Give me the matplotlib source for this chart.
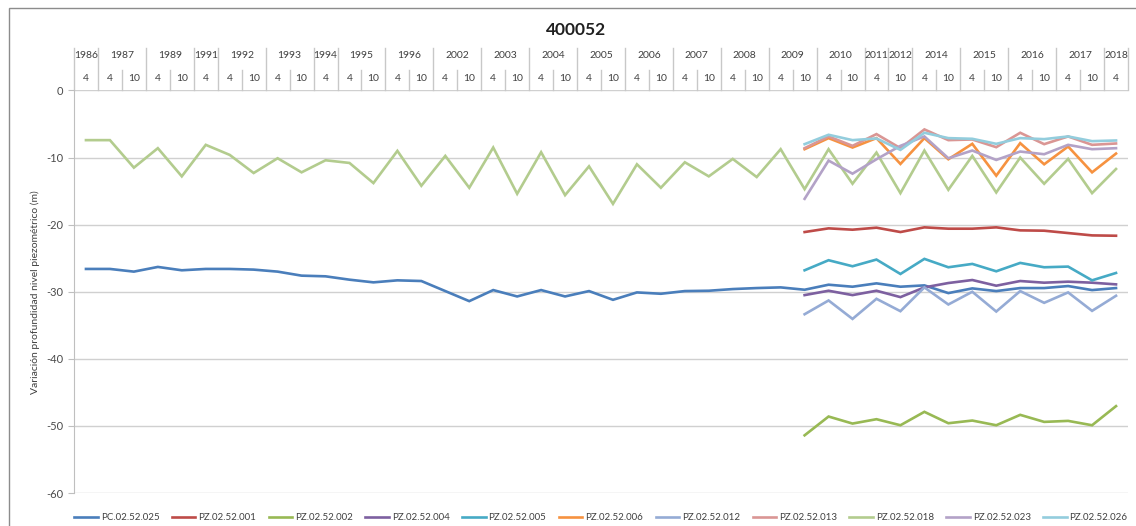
import numpy as np
import matplotlib
matplotlib.use('Agg')
import matplotlib.pyplot as plt

plt.rcParams['font.family'] = ['Lato', 'DejaVu Sans']
plt.rcParams['axes.unicode_minus'] = False

# Categories: year / month (multi-level axis at the top)
years = [1986, 1987, 1987, 1989, 1989, 1991, 1992, 1992, 1993, 1993, 1994, 1995, 1995, 1996, 1996,
         2002, 2002, 2003, 2003, 2004, 2004, 2005, 2005, 2006, 2006, 2007, 2007, 2008, 2008, 2009, 2009,
         2010, 2010, 2011, 2012, 2014, 2014, 2015, 2015, 2016, 2016, 2017, 2017, 2018]
months = [4, 4, 10, 4, 10, 4, 4, 10, 4, 10, 4, 4, 10, 4, 10,
          4, 10, 4, 10, 4, 10, 4, 10, 4, 10, 4, 10, 4, 10, 4, 10,
          4, 10, 4, 10, 4, 10, 4, 10, 4, 10, 4, 10, 4]

# Long series (whole period)
pc_025 = [-26.6, -26.6, -27.0, -26.3, -26.8, -26.6, -26.6, -26.7, -27.0, -27.6, -27.7, -28.2, -28.6, -28.3, -28.4,
          -29.9, -31.4, -29.75, -30.7, -29.75, -30.7, -29.9, -31.2, -30.1, -30.3, -29.9, -29.85, -29.6, -29.45, -29.35,
          -29.7, -28.95, -29.25, -28.75, -29.25, -29.05, -30.2, -29.5, -29.9, -29.45, -29.45, -29.15, -29.75, -29.45]
pz_018 = [-7.4, -7.4, -11.5, -8.6, -12.8, -8.1, -9.6, -12.3, -10.1, -12.2, -10.4, -10.8, -13.8, -9.0, -14.2,
          -9.75, -14.5, -8.5, -15.4, -9.2, -15.6, -11.3, -16.9, -11.0, -14.5, -10.7, -12.8, -10.2, -12.9, -8.75,
          -14.7, -8.75, -13.9, -9.25, -15.3, -8.95, -14.8, -9.75, -15.2, -10.0, -13.9, -10.2, -15.3, -11.7]

# Short series (from 2009-10 on)
pz_001 = [-21.1, -20.55, -20.75, -20.45, -21.1, -20.4, -20.6, -20.6, -20.4, -20.85, -20.9, -21.25, -21.6, -21.65]
pz_002 = [-51.4, -48.6, -49.65, -49.0, -49.9, -47.9, -49.6, -49.2, -49.9, -48.35, -49.4, -49.25, -49.9, -47.05]
pz_004 = [-30.5, -29.85, -30.5, -29.85, -30.8, -29.35, -28.7, -28.25, -29.1, -28.4, -28.65, -28.5, -28.65, -28.9]
pz_005 = [-26.8, -25.3, -26.2, -25.2, -27.35, -25.1, -26.35, -25.85, -26.95, -25.7, -26.35, -26.25, -28.3, -27.2]
pz_006 = [-8.75, -7.1, -8.5, -7.1, -10.95, -7.1, -10.25, -7.95, -12.7, -7.85, -11.0, -8.35, -12.2, -9.4]
pz_012 = [-33.35, -31.3, -34.05, -31.05, -32.9, -29.35, -31.9, -30.0, -32.95, -29.9, -31.65, -30.1, -32.85, -30.6]
pz_013 = [-8.6, -6.85, -8.25, -6.5, -8.6, -5.8, -7.4, -7.3, -8.45, -6.3, -8.0, -6.85, -8.1, -7.9]
pz_023 = [-16.15, -10.45, -12.4, -10.25, -8.25, -6.85, -10.1, -8.95, -10.35, -9.1, -9.5, -8.1, -8.75, -8.6]
pz_026 = [-8.0, -6.6, -7.4, -7.15, -8.85, -6.3, -7.1, -7.2, -7.95, -7.1, -7.25, -6.85, -7.55, -7.45]

pad = [np.nan] * (len(years) - len(pz_001))

series = [
    ('PC.02.52.025', pc_025, '#4A7EBB'),
    ('PZ.02.52.001', pad + pz_001, '#BE4B48'),
    ('PZ.02.52.002', pad + pz_002, '#98B954'),
    ('PZ.02.52.004', pad + pz_004, '#7D60A0'),
    ('PZ.02.52.005', pad + pz_005, '#46AAC5'),
    ('PZ.02.52.006', pad + pz_006, '#F69240'),
    ('PZ.02.52.012', pad + pz_012, '#95ABD5'),
    ('PZ.02.52.013', pad + pz_013, '#DA9694'),
    ('PZ.02.52.018', pz_018, '#B3CC8E'),
    ('PZ.02.52.023', pad + pz_023, '#B3A2C7'),
    ('PZ.02.52.026', pad + pz_026, '#93CDDD'),
]

fig = plt.figure(figsize=(11.36, 5.26), dpi=100)
ax = fig.add_axes([74 / 1136, 1 - 493 / 526, 1054 / 1136, 402.5 / 526])

x = np.arange(len(years))
for name, vals, col in series:
    ax.plot(x, vals, color=col, lw=1.9, label=name, solid_joinstyle='miter')

ax.set_xlim(-0.5, len(years) - 0.5)
ax.set_ylim(-60, 0)
ax.set_yticks(range(-60, 1, 10))
ax.grid(axis='y', color='#D0D0D0', lw=1)
ax.set_axisbelow(True)
ax.set_xticks([])
for s in ['top', 'right', 'bottom']:
    ax.spines[s].set_visible(False)
ax.spines['left'].set_color('#BFBFBF')
ax.tick_params(axis='y', length=4, color='#BFBFBF', labelsize=8, labelcolor='#4A4A4A')
ax.set_ylabel('Variación profundidad nivel piezométrico (m)', fontsize=7.5, color='#404040', labelpad=5)

# multi-level category header above the plot
tr = ax.get_xaxis_transform()
sep_col = '#C8C8C8'
start = 0
for i in range(1, len(years) + 1):
    if i == len(years) or years[i] != years[start]:
        ax.text((start + i - 1) / 2, 1.086, str(years[start]), transform=tr, ha='center', va='center',
                fontsize=7.5, color='#404040')
        ax.plot([start - 0.5, start - 0.5], [1.0, 1.106], transform=tr, color=sep_col, lw=1, clip_on=False)
        for j in range(start + 1, i):
            ax.plot([j - 0.5, j - 0.5], [1.0, 1.052], transform=tr, color=sep_col, lw=1, clip_on=False)
        start = i
ax.plot([len(years) - 0.5] * 2, [1.0, 1.106], transform=tr, color=sep_col, lw=1, clip_on=False)
for i, m in enumerate(months):
    ax.text(i, 1.031, str(m), transform=tr, ha='center', va='center', fontsize=7.5, color='#404040')

fig.text(0.507, 1 - 30 / 526, '400052', ha='center', va='center', fontsize=12.5, fontweight='bold',
         color='#202020')

leg = ax.legend(loc='upper center', bbox_to_anchor=(0.5, -0.028), ncol=11, frameon=False,
                fontsize=7, handlelength=2.4, columnspacing=1.3, handletextpad=0.3)
for t in leg.get_texts():
    t.set_color('#404040')

# outer chart frame
fig.patches.append(plt.Rectangle((9 / 1136, -0.1), 1.2, 1 - 8 / 526 + 0.1, transform=fig.transFigure,
                                 fill=False, edgecolor='#8C8C8C', lw=1))

fig.savefig('out.png', dpi=100)
